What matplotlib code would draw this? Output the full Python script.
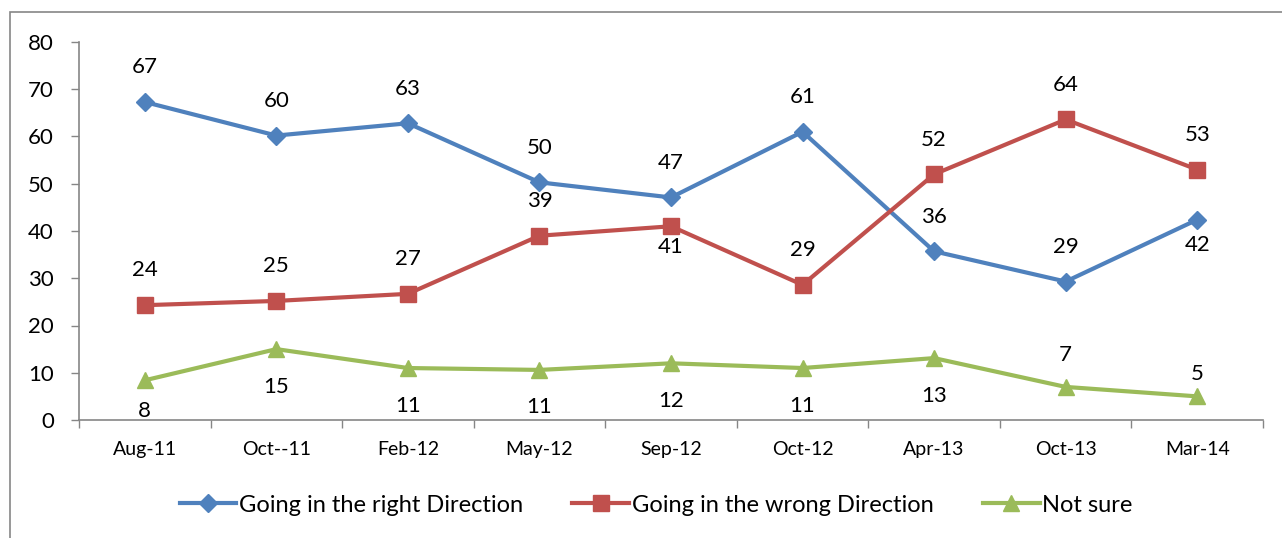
import matplotlib
matplotlib.use("Agg")
import matplotlib.pyplot as plt
from matplotlib.patches import Rectangle
from matplotlib.lines import Line2D

categories = ["Aug-11", "Oct--11", "Feb-12", "May-12", "Sep-12", "Oct-12", "Apr-13", "Oct-13", "Mar-14"]
right_dir = [67.3, 60.2, 62.8, 50.3, 47.1, 61.0, 35.7, 29.3, 42.4]
wrong_dir = [24.3, 25.2, 26.7, 39.0, 41.0, 28.6, 52.0, 63.6, 53.0]
not_sure = [8.4, 15.0, 11.0, 10.6, 12.0, 11.0, 13.1, 7.0, 5.0]
right_labels = [67, 60, 63, 50, 47, 61, 36, 29, 42]
wrong_labels = [24, 25, 27, 39, 41, 29, 52, 64, 53]
sure_labels = [8, 15, 11, 11, 12, 11, 13, 7, 5]

plt.rcParams['font.family'] = ['Lato', 'DejaVu Sans']

W, H = 1282, 538
fig = plt.figure(figsize=(W / 100, H / 100), dpi=100)
ax = fig.add_axes([79 / W, 1 - 420 / H, (1263 - 79) / W, (420 - 42) / H])

blue, red, green = "#4F81BD", "#C0504D", "#9BBB59"
x = list(range(len(categories)))

ax.plot(x, right_dir, color=blue, lw=3, marker="D", ms=9, label="Going in the right Direction", zorder=3)
ax.plot(x, wrong_dir, color=red, lw=3, marker="s", ms=11, label="Going in the wrong Direction", zorder=3)
ax.plot(x, not_sure, color=green, lw=3, marker="^", ms=12, label="Not sure", zorder=3)

fs = 16
for i in x:
    dy = -18 if i == 8 else 25
    ax.annotate(str(right_labels[i]), (i, right_dir[i]), xytext=(0, dy), textcoords="offset points",
                ha="center", va="center", fontsize=fs)
    dy = -15 if i == 4 else 25
    ax.annotate(str(wrong_labels[i]), (i, wrong_dir[i]), xytext=(0, dy), textcoords="offset points",
                ha="center", va="center", fontsize=fs)
    if i in (7, 8):
        dy = 23 if i == 7 else 16
    elif i == 0:
        dy = -22
    else:
        dy = -27
    ax.annotate(str(sure_labels[i]), (i, not_sure[i]), xytext=(0, dy), textcoords="offset points",
                ha="center", va="center", fontsize=fs)

ax.set_xlim(-0.5, len(categories) - 0.5)
ax.set_ylim(0, 80)
ax.set_yticks(range(0, 81, 10))
ax.set_xticks(x)
ax.set_xticklabels(categories, fontsize=14)
ax.set_xticks([i - 0.5 for i in range(len(categories) + 1)], minor=True)
ax.tick_params(axis="x", which="major", length=0, pad=15)
ax.tick_params(axis="x", which="minor", length=6, color="#868686", width=1)
ax.tick_params(axis="y", labelsize=16, length=6, color="#868686", width=1, pad=12)

for s in ["top", "right"]:
    ax.spines[s].set_visible(False)
for s in ["left", "bottom"]:
    ax.spines[s].set_color("#868686")
    ax.spines[s].set_linewidth(1.2)

fig.patches.append(Rectangle((10 / W, -0.1), 1.2, 1 - 12 / H + 0.1, transform=fig.transFigure,
                             fill=False, edgecolor="#868686", lw=1.2))

handles = [
    Line2D([], [], color=blue, lw=3, marker="D", ms=9),
    Line2D([], [], color=red, lw=3, marker="s", ms=11),
    Line2D([], [], color=green, lw=3, marker="^", ms=12),
]
fig.legend(handles, ["Going in the right Direction", "Going in the wrong Direction", "Not sure"],
           loc="center", bbox_to_anchor=(656 / W, 1 - 505 / H), ncol=3, frameon=False,
           fontsize=17, handlelength=2.4, handletextpad=0.1, columnspacing=2.1)

fig.savefig("out.png", dpi=100)
